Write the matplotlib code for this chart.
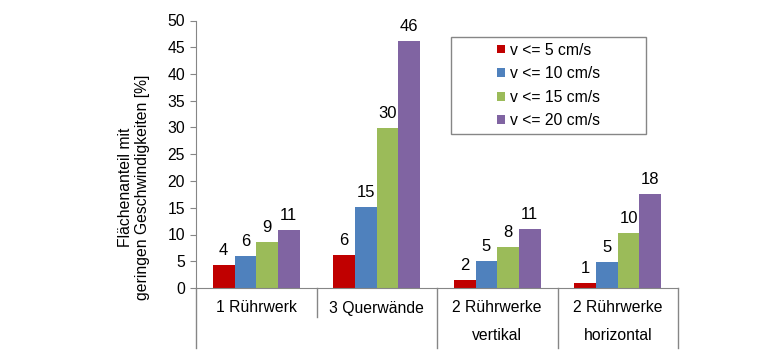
import matplotlib
matplotlib.use('Agg')
import matplotlib.pyplot as plt
import numpy as np
from matplotlib.patches import Rectangle

plt.rcParams['font.family'] = ['Liberation Sans', 'DejaVu Sans']

categories_top = ['1 Rührwerk', '3 Querwände', '2 Rührwerke', '2 Rührwerke']
categories_bottom = ['', '', 'vertikal', 'horizontal']
series_names = ['v <= 5 cm/s', 'v <= 10 cm/s', 'v <= 15 cm/s', 'v <= 20 cm/s']
v5 = [4.3, 6.2, 1.5, 0.9]
v10 = [5.9, 15.2, 5.1, 4.9]
v15 = [8.6, 29.9, 7.6, 10.2]
v20 = [10.9, 46.1, 11.0, 17.5]
labels_v5 = ['4', '6', '2', '1']
labels_v10 = ['6', '15', '5', '5']
labels_v15 = ['9', '30', '8', '10']
labels_v20 = ['11', '46', '11', '18']

colors = ['#C00000', '#4F81BD', '#9BBB59', '#8064A2']
grey = '#868686'
fs = 11.3

W, H = 780, 353
fig = plt.figure(figsize=(W / 100, H / 100), dpi=100)
ax = fig.add_axes([196 / W, 1 - 288 / H, (678 - 196) / W, (288 - 20.5) / H])

x = np.arange(len(categories_top))
width = 0.18
series = [v5, v10, v15, v20]
labels = [labels_v5, labels_v10, labels_v15, labels_v20]
for i, (vals, labs) in enumerate(zip(series, labels)):
    bars = ax.bar(x + (i - 1.5) * width, vals, width, color=colors[i],
                  label=series_names[i])
    ax.bar_label(bars, labels=labs, padding=5, fontsize=12)

ax.set_xlim(-0.5, 3.5)
ax.set_ylim(0, 50)
ax.set_yticks(np.arange(0, 51, 5))
ax.tick_params(axis='y', direction='out', length=4, color=grey, labelsize=fs, pad=4)
ax.set_xticks([])
for s in ['top', 'right']:
    ax.spines[s].set_visible(False)
ax.spines['left'].set_color(grey)
ax.spines['bottom'].set_color(grey)

# multi level category axis
tr = ax.get_xaxis_transform()
bottom_y = (288 - 348) / (288 - 20.5)
short_y = (288 - 317) / (288 - 20.5)
for xd, yb in [(-0.5, bottom_y), (0.5, short_y), (1.5, bottom_y), (2.5, bottom_y), (3.5, bottom_y)]:
    ax.plot([xd, xd], [0, yb], color=grey, lw=1, transform=tr, clip_on=False)
row1 = (288 - 308) / (288 - 20.5)
row2 = (288 - 336) / (288 - 20.5)
for i in range(len(categories_top)):
    ax.text(x[i], row1, categories_top[i], transform=tr, ha='center', va='center', fontsize=fs)
    if categories_bottom[i]:
        ax.text(x[i], row2, categories_bottom[i], transform=tr, ha='center', va='center', fontsize=fs)

fig.text(134 / W, 1 - 187 / H, 'Flächenanteil mit\ngeringen Geschwindigkeiten [%]',
         rotation=90, ha='center', va='center', multialignment='center', fontsize=fs)

# legend
fig.patches.append(Rectangle((451 / W, 1 - 134 / H), 195 / W, 97 / H, transform=fig.transFigure,
                             fill=False, edgecolor=grey, lw=1))
ax.legend(loc='center', bbox_to_anchor=(548.5 / W, 1 - 85.5 / H), bbox_transform=fig.transFigure,
          frameon=False, fontsize=fs, handlelength=0.5, handleheight=0.5, handletextpad=0.3,
          labelspacing=0.55)

fig.savefig('out.png', dpi=100)
